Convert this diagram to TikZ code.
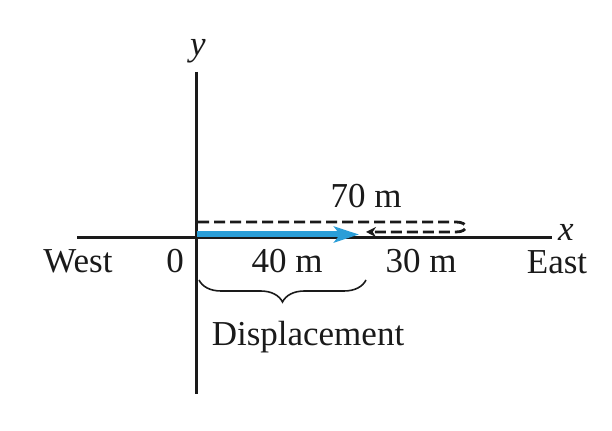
\documentclass[tikz,border=0pt]{standalone}
\usepackage{fontspec}
\setmainfont{Liberation Serif}
\usepackage{xcolor}
\usepackage{tikz}
\usetikzlibrary{arrows.meta,positioning,calc,decorations.pathreplacing}
\definecolor{ink}{HTML}{1A1A1A}
\definecolor{flow}{HTML}{2A9ED8}
\tikzset{
  axis/.style={line width=1.5pt, draw=ink},
  lbl/.style={font=\fontsize{17.5}{20}\selectfont, text=ink, inner sep=0pt, anchor=base},
  var/.style={lbl, font=\fontsize{17.5}{20}\selectfont\itshape},
  disp/.style={-{Stealth[length=12.5pt, width=8pt, inset=3pt]}, line width=3pt, draw=flow},
  darr/.style={-{Stealth[length=5pt, width=5pt]}, line width=1.4pt, draw=ink,
               dash pattern=on 5.5pt off 2.5pt},
  brc/.style={decorate, decoration={brace, mirror, amplitude=11pt}, line width=0.8pt, draw=ink},
}

\begin{document}
\begin{tikzpicture}[x=0.5pt, y=-0.5pt]
  \useasboundingbox (0,0) rectangle (612,431);
  % axes
  \coordinate (ytop) at (196,72);
  \coordinate (ybot) at (196,394);
  \coordinate (xlft) at (77,237.5);
  \coordinate (xrgt) at (552,237.5);
  \draw[axis] (ytop) -- (ybot);
  \draw[axis] (xlft) -- (xrgt);
  \node[var] (ylab) at (198,56) {y};
  \node[var] (xlab) at (566,241) {x};
  % trip out and back
  \coordinate (start) at (197,234.5);
  \coordinate (stop) at (359,234.5);
  \draw[disp] (start) -- (stop);
  \coordinate (go) at (198,222);
  \coordinate (turn) at (456,222);
  \coordinate (back) at (456,232);
  \coordinate (end) at (366,232);
  \draw[darr] (go) -- (turn) .. controls (469,222) and (469,232) .. (back) -- (end);
  % labels
  \node[lbl] (west) at (78,273) {West};
  \node[lbl] (zero) at (175,273) {0};
  \node[lbl] (forty) at (287,273) {40 m};
  \node[lbl] (thirty) at (421,273) {30 m};
  \node[lbl] (east) at (557,274) {East};
  \node[lbl] (seventy) at (366,208) {70 m};
  % displacement brace
  \coordinate (b1) at (199,280);
  \coordinate (b2) at (366,280);
  \draw[brc] (b1) -- (b2);
  \node[lbl] (dlab) at (308,346) {Displacement};
\end{tikzpicture}
\end{document}
